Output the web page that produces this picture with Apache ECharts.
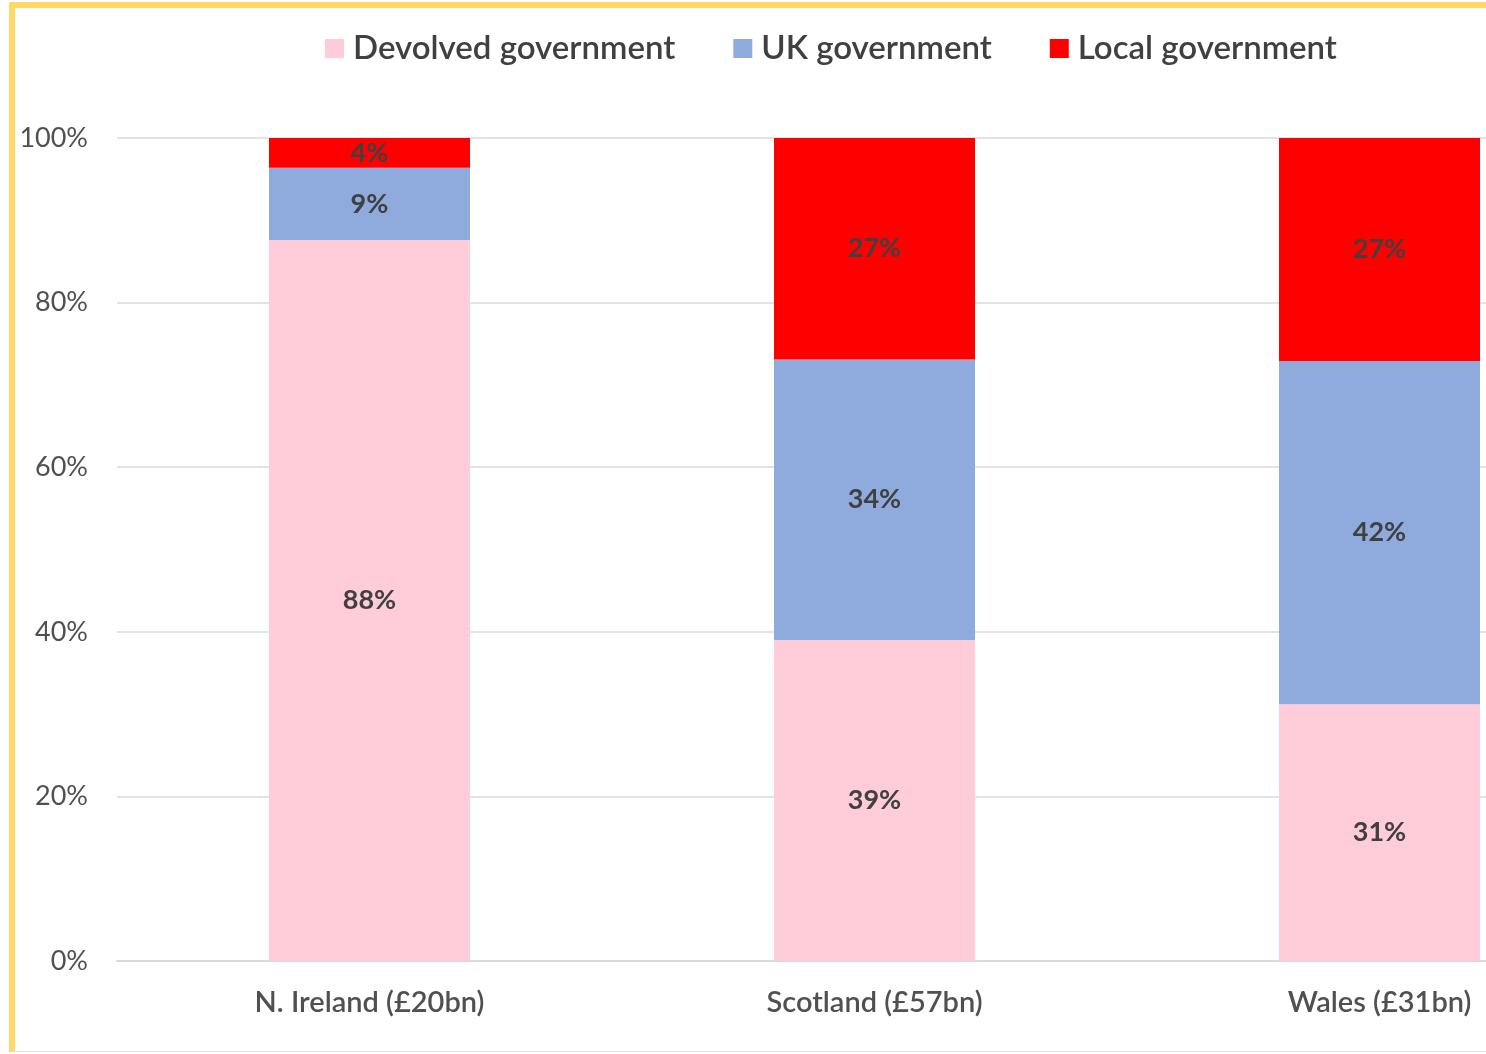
<!DOCTYPE html>
<html>
<head>
<meta charset="utf-8">
<script src="https://cdn.jsdelivr.net/npm/echarts@6/dist/echarts.min.js"></script>
<style>
html,body{margin:0;padding:0;background:#fff;overflow:hidden;width:1486px;height:1054px;}
#chart{position:absolute;left:0;top:0;width:1640px;height:1054px;}
#frame{position:absolute;left:9px;top:2px;width:1477px;height:1050px;border-left:6px solid #FFD966;border-top:6px solid #FFD966;border-bottom:1px solid #e4e4e4;box-sizing:border-box;pointer-events:none;z-index:5;}
</style>
</head>
<body>
<div id="chart"></div>
<div id="frame"></div>
<script>
const categories = ['N. Ireland (£20bn)', 'Scotland (£57bn)', 'Wales (£31bn)'];
const devolved = [87.6, 39.0, 31.2];
const ukGov = [8.8, 34.1, 41.7];
const localGov = [3.6, 26.9, 27.1];
const yTicks = { min: 0, max: 100, interval: 20 };

const FONT = 'Lato';
const chart = echarts.init(document.getElementById('chart'));
function mkLabel() {
  return {
    show: true,
    position: 'inside',
    color: '#404040',
    fontFamily: FONT,
    fontWeight: 'bold',
    fontSize: 27,
    formatter: p => Math.round(p.value) + '%'
  };
}
chart.setOption({
  animation: false,
  backgroundColor: '#fff',
  legend: {
    left: 320,
    top: 27,
    itemWidth: 19,
    itemHeight: 19,
    itemGap: 58,
    icon: 'rect',
    textStyle: { color: '#404040', fontFamily: FONT, fontWeight: 600, fontSize: 33, padding: [0, 0, 0, 4] },
    data: ['Devolved government', 'UK government', 'Local government']
  },
  grid: { left: 117, top: 138, height: 823, width: 1515 },
  xAxis: {
    type: 'category',
    data: categories,
    axisLine: { lineStyle: { color: '#d9d9d9', width: 2 } },
    axisTick: { show: false },
    axisLabel: { color: '#505050', fontFamily: FONT, fontWeight: 600, fontSize: 29, margin: 27 }
  },
  yAxis: {
    type: 'value',
    min: yTicks.min,
    max: yTicks.max,
    interval: yTicks.interval,
    axisLine: { show: false },
    axisTick: { show: false },
    splitLine: { lineStyle: { color: '#e3e3e3', width: 2 } },
    axisLabel: { color: '#505050', fontFamily: FONT, fontSize: 27, margin: 29, formatter: '{value}%' }
  },
  series: [
    { name: 'Devolved government', type: 'bar', stack: 'a', barWidth: 201, data: devolved, itemStyle: { color: '#FFCCD9' }, label: mkLabel() },
    { name: 'UK government', type: 'bar', stack: 'a', barWidth: 201, data: ukGov, itemStyle: { color: '#8FAADC' }, label: mkLabel() },
    { name: 'Local government', type: 'bar', stack: 'a', barWidth: 201, data: localGov, itemStyle: { color: '#FF0000' }, label: mkLabel() }
  ]
});
</script>
</body>
</html>
